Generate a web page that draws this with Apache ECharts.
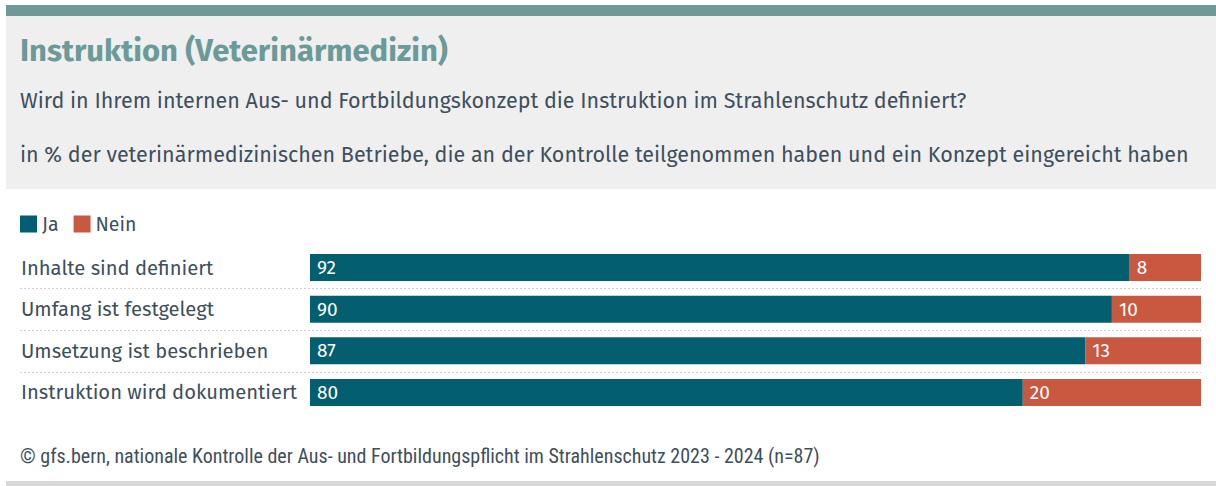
<!DOCTYPE html>
<html>
<head>
<meta charset="utf-8">
<script src="https://cdn.jsdelivr.net/npm/echarts@6/dist/echarts.min.js"></script>
<style>
  html, body { margin: 0; padding: 0; background: #fff; }
  #chart { width: 1216px; height: 486px; }
</style>
</head>
<body>
<div id="chart"></div>
<script>
// Daten
const categories = ['Inhalte sind definiert', 'Umfang ist festgelegt', 'Umsetzung ist beschrieben', 'Instruktion wird dokumentiert'];
const jaValues = [92, 90, 87, 80];
const neinValues = [8, 10, 13, 20];
const seriesNames = ['Ja', 'Nein'];

const titleText = 'Instruktion (Veterinärmedizin)';
const questionText = 'Wird in Ihrem internen Aus- und Fortbildungskonzept die Instruktion im Strahlenschutz definiert?';
const baseText = 'in % der veterinärmedizinischen Betriebe, die an der Kontrolle teilgenommen haben und ein Konzept eingereicht haben';
const sourceText = '© gfs.bern, nationale Kontrolle der Aus- und Fortbildungspflicht im Strahlenschutz 2023 - 2024 (n=87)';

const FONT = "'Fira Sans', 'Noto Sans', sans-serif";
const NARROW = "'Liberation Sans Narrow', 'Roboto Condensed', 'Roboto', sans-serif";
const textColor = '#3e4f5d';
const colorJa = '#035f6f';
const colorNein = '#c85840';

const chart = echarts.init(document.getElementById('chart'), null, {renderer: 'svg'});

const barLabel = {
  show: true,
  position: 'insideLeft',
  distance: 7,
  color: '#ffffff',
  fontFamily: FONT,
  fontSize: 19
};

let option = {
  animation: false,
  textStyle: {fontFamily: FONT},
  title: [
    {text: titleText, left: 20, top: 35, padding: 0, textStyle: {fontSize: 31, fontWeight: 'bold', color: '#6b9a97', fontFamily: FONT}},
    {text: questionText, left: 20, top: 90, padding: 0, textStyle: {fontSize: 21.5, fontWeight: 'normal', color: textColor, fontFamily: FONT}},
    {text: baseText, left: 20, top: 144, padding: 0, textStyle: {fontSize: 21.5, fontWeight: 'normal', color: textColor, fontFamily: FONT}},
    {text: sourceText, left: 20, top: 446, padding: 0, textStyle: {fontSize: 20, fontWeight: 'normal', color: textColor, fontFamily: NARROW}}
  ],
  legend: {
    data: seriesNames,
    left: 20,
    top: 214,
    padding: 0,
    icon: 'rect',
    itemWidth: 17,
    itemHeight: 17,
    itemGap: 15,
    textStyle: {fontSize: 19.5, color: textColor, fontFamily: FONT}
  },
  graphic: [
    {type: 'rect', z: -10, shape: {x: 6, y: 5, width: 1210, height: 11}, style: {fill: '#6e9997'}},
    {type: 'rect', z: -10, shape: {x: 6, y: 16, width: 1210, height: 173}, style: {fill: '#efefef'}},
    {type: 'rect', z: -10, shape: {x: 6, y: 481, width: 1210, height: 5}, style: {fill: '#d8d8d8'}}
  ],
  grid: {left: 310, right: 15, top: 246.75, bottom: 72.75, containLabel: false},
  xAxis: {
    type: 'value',
    min: 0,
    max: 100,
    show: false
  },
  yAxis: {
    type: 'category',
    data: categories,
    inverse: true,
    axisLine: {show: false},
    axisTick: {show: false},
    splitLine: {show: false},
    axisLabel: {
      align: 'left',
      margin: 289,
      fontSize: 20.2,
      color: textColor,
      fontFamily: FONT
    }
  },
  series: [
    {
      name: seriesNames[0],
      type: 'bar',
      stack: 'total',
      barWidth: 27,
      itemStyle: {color: colorJa},
      label: barLabel,
      data: jaValues
    },
    {
      name: seriesNames[1],
      type: 'bar',
      stack: 'total',
      barWidth: 27,
      itemStyle: {color: colorNein},
      label: barLabel,
      data: neinValues
    }
  ]
};
chart.setOption(option);

// gepunktete Trennlinien zwischen den Zeilen
let y0 = chart.convertToPixel({yAxisIndex: 0}, categories[0]);
let y1 = chart.convertToPixel({yAxisIndex: 0}, categories[1]);
let step = y1 - y0;
let lines = [];
for (let i = 0; i < categories.length - 1; i++) {
  let y = Math.round(y0 + step * (i + 0.5)) + 0.5;
  lines.push({
    type: 'line',
    shape: {x1: 20, y1: y, x2: 1201, y2: y},
    style: {stroke: '#cfcfcf', lineWidth: 1, lineDash: [2, 2]}
  });
}
chart.setOption({graphic: option.graphic.concat(lines)});
</script>
</body>
</html>
